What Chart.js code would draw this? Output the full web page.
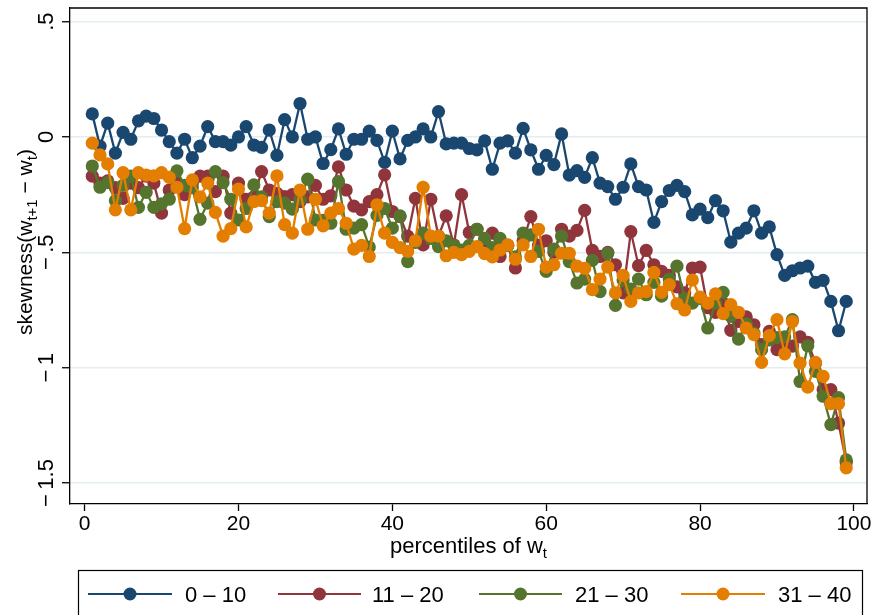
<!DOCTYPE html>
<html><head><meta charset="utf-8">
<script src="https://cdn.jsdelivr.net/npm/chart.js@4/dist/chart.umd.min.js"></script>
<style>html,body{margin:0;padding:0;background:#fff;}#wrap{width:874px;height:615px;}</style>
</head><body><div id="wrap"><canvas id="c" width="874" height="615"></canvas></div>
<script>
const percentiles = [1,2,3,4,5,6,7,8,9,10,11,12,13,14,15,16,17,18,19,20,21,22,23,24,25,26,27,28,29,30,31,32,33,34,35,36,37,38,39,40,41,42,43,44,45,46,47,48,49,50,51,52,53,54,55,56,57,58,59,60,61,62,63,64,65,66,67,68,69,70,71,72,73,74,75,76,77,78,79,80,81,82,83,84,85,86,87,88,89,90,91,92,93,94,95,96,97,98,99];

const group0to10 = [0.10,-0.04,0.06,-0.07,0.02,-0.01,0.07,0.09,0.08,0.03,
 -0.02,-0.07,-0.01,-0.09,-0.04,0.045,-0.02,-0.02,-0.035,0.00,
 0.045,-0.035,-0.045,0.03,-0.08,0.075,0.00,0.145,-0.01,0.00,
 -0.115,-0.055,0.035,-0.075,-0.01,-0.01,0.025,-0.015,-0.11,0.025,
 -0.095,-0.015,0.00,0.035,0.00,0.11,-0.03,-0.027,-0.027,-0.05,
 -0.056,-0.017,-0.14,-0.027,-0.017,-0.07,0.037,-0.056,-0.14,-0.08,
 -0.12,0.013,-0.165,-0.146,-0.175,-0.09,-0.2,-0.215,-0.27,-0.218,
 -0.117,-0.215,-0.23,-0.37,-0.28,-0.232,-0.21,-0.237,-0.338,-0.313,
 -0.35,-0.276,-0.32,-0.456,-0.417,-0.395,-0.32,-0.417,-0.39,-0.51,
 -0.6,-0.58,-0.568,-0.56,-0.63,-0.622,-0.713,-0.84,-0.713];

const group11to20 = [-0.17,-0.2,-0.19,-0.22,-0.266,-0.2,-0.22,-0.17,-0.2,-0.33,
 -0.23,-0.2,-0.25,-0.2,-0.17,-0.17,-0.237,-0.17,-0.33,-0.2,
 -0.27,-0.26,-0.15,-0.23,-0.244,-0.258,-0.25,-0.28,-0.26,-0.21,
 -0.27,-0.255,-0.13,-0.23,-0.3,-0.316,-0.28,-0.25,-0.164,-0.323,
 -0.345,-0.43,-0.266,-0.468,-0.27,-0.43,-0.342,-0.468,-0.25,-0.414,
 -0.4,-0.45,-0.417,-0.518,-0.47,-0.568,-0.45,-0.345,-0.47,-0.45,
 -0.5,-0.4,-0.43,-0.405,-0.318,-0.492,-0.518,-0.5,-0.554,-0.676,
 -0.41,-0.558,-0.492,-0.554,-0.583,-0.6,-0.65,-0.676,-0.568,-0.564,
 -0.74,-0.76,-0.72,-0.838,-0.8,-0.78,-0.814,-0.9,-0.843,-0.922,
 -0.907,-0.907,-0.867,-0.89,-0.98,-1.095,-1.095,-1.24,-1.41];

const group21to30 = [-0.126,-0.218,-0.198,-0.276,-0.21,-0.17,-0.305,-0.24,-0.305,-0.29,
 -0.27,-0.147,-0.21,-0.22,-0.357,-0.287,-0.15,-0.198,-0.27,-0.36,
 -0.31,-0.208,-0.26,-0.345,-0.28,-0.287,-0.313,-0.27,-0.183,-0.36,
 -0.362,-0.374,-0.193,-0.4,-0.395,-0.38,-0.477,-0.34,-0.31,-0.395,
 -0.342,-0.54,-0.457,-0.417,-0.44,-0.475,-0.45,-0.47,-0.49,-0.47,
 -0.4,-0.44,-0.48,-0.44,-0.47,-0.52,-0.417,-0.424,-0.496,-0.583,
 -0.486,-0.43,-0.54,-0.633,-0.616,-0.535,-0.67,-0.504,-0.73,-0.62,
 -0.66,-0.616,-0.684,-0.63,-0.69,-0.616,-0.56,-0.7,-0.72,-0.7,
 -0.828,-0.72,-0.674,-0.778,-0.876,-0.81,-0.85,-0.922,-0.88,-0.87,
 -0.867,-0.792,-1.06,-0.905,-1.016,-1.124,-1.247,-1.13,-1.4];

const group31to40 = [-0.027,-0.078,-0.117,-0.316,-0.155,-0.316,-0.155,-0.165,-0.169,-0.155,
 -0.175,-0.218,-0.397,-0.186,-0.26,-0.2,-0.327,-0.43,-0.397,-0.226,
 -0.39,-0.28,-0.276,-0.33,-0.169,-0.38,-0.417,-0.23,-0.4,-0.27,
 -0.385,-0.33,-0.31,-0.374,-0.486,-0.47,-0.518,-0.294,-0.417,-0.457,
 -0.48,-0.496,-0.45,-0.218,-0.43,-0.43,-0.515,-0.5,-0.51,-0.496,
 -0.475,-0.506,-0.52,-0.49,-0.468,-0.53,-0.468,-0.518,-0.4,-0.564,
 -0.554,-0.504,-0.504,-0.56,-0.57,-0.662,-0.616,-0.564,-0.676,-0.6,
 -0.713,-0.676,-0.67,-0.587,-0.674,-0.64,-0.723,-0.75,-0.62,-0.694,
 -0.72,-0.68,-0.766,-0.727,-0.76,-0.828,-0.857,-0.977,-0.861,-0.792,
 -0.94,-0.8,-0.98,-1.084,-0.977,-1.038,-1.156,-1.156,-1.434];

const seriesLabels = ['0 \u2013 10','11 \u2013 20','21 \u2013 30','31 \u2013 40'];
const seriesColors = ['#1a476f','#90353b','#55752f','#e37e00'];
const xTicks = [0,20,40,60,80,100];
const yTicks = [-1.5,-1,-0.5,0,0.5];
const yTickLabels = ['\u2212\u20091.5','\u2212\u20091','\u2212\u2009.5','0','.5'];

const FONT = "'Liberation Sans', Arial, Helvetica, sans-serif";
const allSeries = [group0to10, group11to20, group21to30, group31to40];

function drawSubText(ctx, parts, x, y, align, size) {
  const sub = Math.round(size * 0.7);
  const widths = parts.map(p => { ctx.font = (p[1] ? sub : size) + 'px ' + FONT; return ctx.measureText(p[0]).width; });
  const total = widths.reduce((a,b)=>a+b,0);
  let cx = align === 'center' ? x - total/2 : x;
  ctx.textAlign = 'left'; ctx.textBaseline = 'alphabetic';
  parts.forEach((p,i) => {
    ctx.font = (p[1] ? sub : size) + 'px ' + FONT;
    ctx.fillText(p[0], cx, y + (p[1] ? 5 : 0));
    cx += widths[i];
  });
}

const decor = {
  id: 'decor',
  afterDraw(chart) {
    const ctx = chart.ctx, a = chart.chartArea, ys = chart.scales.y;
    ctx.save();
    ctx.strokeStyle = '#000'; ctx.lineWidth = 1.3;
    ctx.beginPath();
    ctx.moveTo(a.left, a.top); ctx.lineTo(a.right, a.top); ctx.lineTo(a.right, a.bottom);
    ctx.stroke();
    ctx.fillStyle = '#000';
    yTicks.forEach((v,i) => {
      const py = ys.getPixelForValue(v);
      ctx.save(); ctx.translate(53, py); ctx.rotate(-Math.PI/2);
      ctx.font = '22px ' + FONT; ctx.textAlign = 'center'; ctx.textBaseline = 'alphabetic';
      ctx.fillText(yTickLabels[i], 0, 0);
      ctx.restore();
    });
    ctx.save(); ctx.translate(32, (a.top + a.bottom)/2 - 14); ctx.rotate(-Math.PI/2);
    drawSubText(ctx, [['skewness(w',0],['t+1',1],[' \u2212 w',0],['t',1],[')',0]], 0, 0, 'center', 21);
    ctx.restore();
    drawSubText(ctx, [['percentiles of w',0],['t',1]], (a.left + a.right)/2, 553, 'center', 22);
    ctx.lineWidth = 1.2; ctx.strokeStyle = '#000';
    ctx.strokeRect(78.5, 570.5, 784, 60);
    const items = [[88,172,185],[278,361,372],[479,562,575],[681,765,778]];
    items.forEach((it,k) => {
      ctx.strokeStyle = seriesColors[k]; ctx.lineWidth = 2.2;
      ctx.beginPath(); ctx.moveTo(it[0], 594); ctx.lineTo(it[1], 594); ctx.stroke();
      ctx.fillStyle = seriesColors[k];
      ctx.beginPath(); ctx.arc((it[0]+it[1])/2, 594, 6.5, 0, Math.PI*2); ctx.fill();
      ctx.fillStyle = '#000'; ctx.font = '22px ' + FONT; ctx.textAlign = 'left'; ctx.textBaseline = 'alphabetic';
      ctx.fillText(seriesLabels[k], it[2], 602);
    });
    ctx.restore();
  }
};

new Chart(document.getElementById('c'), {
  type: 'line',
  data: {
    datasets: allSeries.map((s,k) => ({
      label: seriesLabels[k],
      data: percentiles.map((p,i) => ({x: p, y: s[i]})),
      borderColor: seriesColors[k],
      backgroundColor: seriesColors[k],
      pointBackgroundColor: seriesColors[k],
      pointBorderWidth: 0,
      pointRadius: 6.6,
      pointHoverRadius: 6.6,
      borderWidth: 2.3,
      tension: 0,
      fill: false,
      order: 3 - k
    }))
  },
  options: {
    responsive: false, animation: false, devicePixelRatio: 1, events: [],
    layout: { padding: { left: 0, right: 7, top: 8, bottom: 0 } },
    plugins: { legend: { display: false }, tooltip: { enabled: false } },
    scales: {
      x: {
        type: 'linear', min: -1.9, max: 101.7,
        afterBuildTicks: s => { s.ticks = xTicks.map(v => ({value: v})); },
        afterFit: s => { s.height = 615 - 504; },
        grid: { display: true, drawOnChartArea: false, drawTicks: true, tickLength: 7, tickColor: '#000', tickWidth: 1.3 },
        border: { display: true, color: '#000', width: 1.3 },
        ticks: { font: { family: FONT, size: 21 }, color: '#000', padding: 1, maxRotation: 0, autoSkip: false }
      },
      y: {
        type: 'linear', min: -1.591, max: 0.559,
        afterBuildTicks: s => { s.ticks = yTicks.map(v => ({value: v})); },
        afterFit: s => { s.width = 70; },
        grid: { color: '#e4edf1', lineWidth: 1.5, drawTicks: true, tickLength: 8, tickColor: '#000', tickWidth: 1.3 },
        border: { display: true, color: '#000', width: 1.3 },
        ticks: { display: false }
      }
    }
  },
  plugins: [decor]
});
</script></body></html>
